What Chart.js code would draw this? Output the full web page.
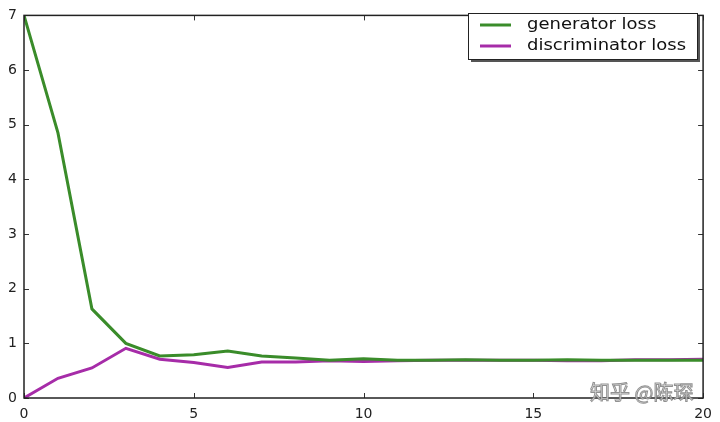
<!DOCTYPE html>
<html>
<head>
<meta charset="utf-8">
<script src="https://cdn.jsdelivr.net/npm/chart.js@4/dist/chart.umd.min.js"></script>
<style>
html,body{margin:0;padding:0;background:#fff;}
#wrap{width:720px;height:422px;position:relative;}
</style>
</head>
<body>
<div id="wrap"><canvas id="c" width="720" height="422"></canvas></div>
<script>
const epochs = [0,1,2,3,4,5,6,7,8,9,10,11,12,13,14,15,16,17,18,19,20];
const generatorLoss = [7.0,4.85,1.63,1.0,0.77,0.79,0.86,0.77,0.73,0.69,0.72,0.69,0.69,0.70,0.69,0.69,0.70,0.69,0.69,0.69,0.69];
const discriminatorLoss = [0.0,0.36,0.55,0.91,0.71,0.65,0.56,0.66,0.66,0.68,0.67,0.68,0.69,0.69,0.69,0.69,0.68,0.68,0.70,0.70,0.71];
const seriesLabels = ['generator loss','discriminator loss'];
const xTicks = [0,5,10,15,20];
const yTicks = [0,1,2,3,4,5,6,7];
const watermark = '知乎 @陈琛';

const GREEN = '#3a8c2a';
const PURPLE = '#a62ca8';

const framePlugin = {
  id: 'frame',
  afterDatasetsDraw(chart) {
    const {ctx, chartArea: a, scales} = chart;
    ctx.save();
    // inward ticks
    ctx.strokeStyle = '#333';
    ctx.lineWidth = 1;
    ctx.beginPath();
    xTicks.forEach(v => {
      const px = Math.round(scales.x.getPixelForValue(v)) + 0.5;
      ctx.moveTo(px, a.bottom); ctx.lineTo(px, a.bottom - 5);
      ctx.moveTo(px, a.top); ctx.lineTo(px, a.top + 5);
    });
    yTicks.forEach(v => {
      const py = Math.round(scales.y.getPixelForValue(v)) + 0.5;
      ctx.moveTo(a.left, py); ctx.lineTo(a.left + 5, py);
      ctx.moveTo(a.right, py); ctx.lineTo(a.right - 5, py);
    });
    ctx.stroke();
    // frame
    ctx.strokeStyle = '#222';
    ctx.lineWidth = 1.5;
    ctx.strokeRect(a.left, a.top, a.right - a.left, a.bottom - a.top);

    // legend
    const lx = 468, ly = 13, lw = 229, lh = 46;
    ctx.fillStyle = '#555';
    ctx.fillRect(lx + 3, ly + 3, lw, lh);
    ctx.fillStyle = '#fff';
    ctx.fillRect(lx, ly, lw, lh);
    ctx.strokeStyle = '#222';
    ctx.lineWidth = 1;
    ctx.strokeRect(lx + 0.5, ly + 0.5, lw, lh);
    ctx.textBaseline = 'middle';
    chart.data.datasets.forEach((ds, i) => {
      const yy = ly + 12 + i * 21;
      ctx.strokeStyle = ds.borderColor;
      ctx.lineWidth = 3;
      ctx.beginPath();
      ctx.moveTo(lx + 12, yy); ctx.lineTo(lx + 43, yy);
      ctx.stroke();
      ctx.save();
      ctx.translate(lx + 59, yy);
      ctx.scale(1.2, 1);
      ctx.font = '15px "DejaVu Sans"';
      ctx.fillStyle = '#111';
      ctx.fillText(ds.label, 0, 0);
      ctx.restore();
    });

    // watermark
    ctx.font = '20px "Noto Sans CJK SC"';
    ctx.textBaseline = 'middle';
    ctx.textAlign = 'left';
    ctx.lineWidth = 1;
    ctx.strokeStyle = 'rgba(120,120,120,0.8)';
    ctx.fillStyle = 'rgba(235,235,235,0.9)';
    ctx.fillText(watermark, 590, 392);
    ctx.strokeText(watermark, 590, 392);
    ctx.restore();
  }
};

new Chart(document.getElementById('c'), {
  type: 'line',
  data: {
    datasets: [
      {label: seriesLabels[0], data: epochs.map((x, i) => ({x, y: generatorLoss[i]})), borderColor: GREEN, borderWidth: 3, pointRadius: 0, tension: 0, fill: false},
      {label: seriesLabels[1], data: epochs.map((x, i) => ({x, y: discriminatorLoss[i]})), borderColor: PURPLE, borderWidth: 3, pointRadius: 0, tension: 0, fill: false}
    ]
  },
  options: {
    responsive: false,
    animation: false,
    layout: {padding: {top: 7, right: 15, left: 0, bottom: 0}},
    plugins: {legend: {display: false}, tooltip: {enabled: false}},
    scales: {
      x: {
        type: 'linear', min: 0, max: 20,
        afterBuildTicks(s) { s.ticks = xTicks.map(v => ({value: v})); },
        afterFit(s) { s.height = 24; },
        grid: {display: false, drawTicks: false},
        border: {display: false},
        ticks: {color: '#222', font: {family: 'DejaVu Sans', size: 14}, padding: 8, maxRotation: 0}
      },
      y: {
        min: 0, max: 7,
        afterBuildTicks(s) { s.ticks = yTicks.map(v => ({value: v})); },
        afterFit(s) { s.width = 24; },
        grid: {display: false, drawTicks: false},
        border: {display: false},
        ticks: {color: '#222', font: {family: 'DejaVu Sans', size: 14}, padding: 7}
      }
    }
  },
  plugins: [framePlugin]
});
</script>
</body>
</html>
